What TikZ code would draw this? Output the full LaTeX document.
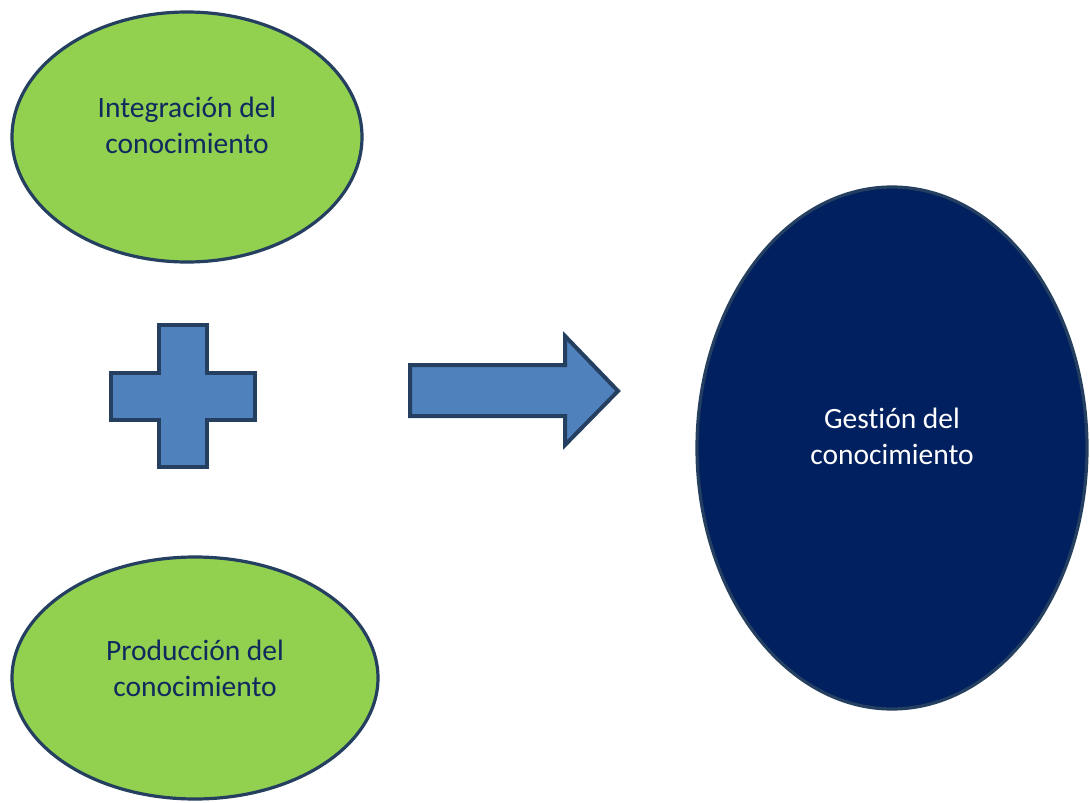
\documentclass[tikz,border=0pt]{standalone}
\usepackage{fontspec}
\setmainfont[Ligatures=NoCommon]{Carlito}
\definecolor{greenfill}{HTML}{92D050}
\definecolor{edgeblue}{HTML}{243F60}
\definecolor{shapeblue}{HTML}{4F81BD}
\definecolor{navyfill}{HTML}{002060}
\definecolor{txtnavy}{HTML}{102A5E}
\begin{document}
\begin{tikzpicture}[x=1pt,y=-1pt,
  greenell/.style={draw=edgeblue,fill=greenfill,line width=3.2pt},
  navyell/.style={draw=edgeblue,fill=navyfill,line width=3.2pt},
  blueshape/.style={draw=edgeblue,fill=shapeblue,line width=4pt,line join=miter},
  label/.style={align=center,font=\fontsize{29.5}{36}\selectfont,inner sep=0pt}]
\useasboundingbox (0,0) rectangle (1090,803);
% ellipses
\draw[greenell] (187,137) ellipse [x radius=175, y radius=125];
\draw[greenell] (195,678) ellipse [x radius=183, y radius=121];
\draw[navyell] (892,448) ellipse [x radius=195, y radius=261];
% texts
\node[label,text=txtnavy] (integ) at (187,125) {Integración del\\conocimiento};
\node[label,text=txtnavy] (prod) at (195,668) {Producción del\\conocimiento};
\node[label,text=white] (gest) at (892,436) {Gestión del\\conocimiento};
% plus
\draw[blueshape] (159,325) -- (207,325) -- (207,373) -- (255,373) -- (255,420) -- (207,420) -- (207,467) -- (159,467) -- (159,420) -- (111,420) -- (111,373) -- (159,373) -- cycle;
% arrow
\draw[blueshape] (410,365) -- (565,365) -- (565,336) -- (618,391) -- (565,445) -- (565,416) -- (410,416) -- cycle;
\end{tikzpicture}
\end{document}
